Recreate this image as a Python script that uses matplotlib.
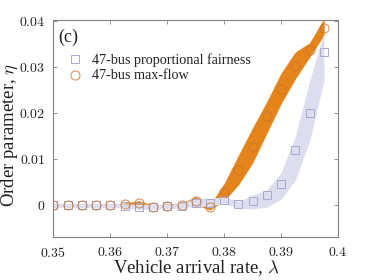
import matplotlib
matplotlib.use("Agg")
import matplotlib.pyplot as plt

plt.rcParams['font.family'] = ['Liberation Serif', 'DejaVu Serif']
plt.rcParams['mathtext.fontset'] = 'cm'

# arrival rates
lam = [0.35, 0.3525, 0.355, 0.3575, 0.36, 0.3625, 0.365, 0.3675, 0.37, 0.3725,
       0.375, 0.3775, 0.38, 0.3825, 0.385, 0.3875, 0.39, 0.3925, 0.395, 0.3975]

# 47-bus max-flow
mf_mean = [0.0, 0.0, 0.0, 0.0, 0.0, 0.0002, 0.0004, -0.0003, -0.0001, 0.0,
           0.0008, -0.0004, 0.0028, 0.0077, 0.0126, 0.0193, 0.0252, 0.0302, 0.0337, 0.0385]
mf_low = [-0.0001, -0.0001, -0.0001, -0.0001, -0.0001, -0.0001, -0.0003, -0.0006, -0.0004, -0.0003,
          0.0001, -0.0010, 0.0010, 0.0045, 0.0093, 0.0158, 0.0222, 0.0276, 0.0323, 0.0370]
mf_high = [0.0001, 0.0001, 0.0001, 0.0001, 0.0001, 0.0004, 0.0009, 0.0000, 0.0002, 0.0004,
           0.0018, 0.0000, 0.0047, 0.0108, 0.0168, 0.0225, 0.0287, 0.0333, 0.0353, 0.0405]

# 47-bus proportional fairness
pf_mean = [0.0, 0.0, 0.0, 0.0, 0.0, -0.0001, -0.0003, -0.0003, -0.0002, -0.0001,
           0.0005, 0.0005, 0.0012, 0.0002, 0.0009, 0.0023, 0.0045, 0.0120, 0.0201, 0.0333]
pf_low = [-0.0005, -0.0005, -0.0005, -0.0005, -0.0005, -0.0006, -0.0009, -0.0009, -0.0008, -0.0006,
          -0.0003, -0.0003, 0.0005, -0.0008, -0.0008, -0.0004, 0.0013, 0.0055, 0.0140, 0.0270]
pf_high = [0.0004, 0.0004, 0.0004, 0.0004, 0.0004, 0.0003, 0.0002, 0.0002, 0.0002, 0.0004,
           0.0015, 0.0015, 0.0018, 0.0008, 0.0022, 0.0033, 0.0071, 0.0150, 0.0270, 0.0376]

xticks = [0.35, 0.36, 0.37, 0.38, 0.39, 0.40]
xtick_labels = ['0.35', '0.36', '0.37', '0.38', '0.39', '0.4']
yticks = [0.0, 0.01, 0.02, 0.03, 0.04]
ytick_labels = ['0', '0.01', '0.02', '0.03', '0.04']

orange_fill = '#E5841A'
orange_edge = '#CC7330'
lav_fill = '#DCDDEE'
lav_edge = '#A8A8D4'

fig = plt.figure(figsize=(3.74, 2.80), dpi=100)
ax = fig.add_axes([0.143, 0.1525, 0.761, 0.776])

ax.fill_between(lam, mf_low, mf_high, color=orange_fill, lw=0.3, edgecolor=orange_fill, zorder=2)
ax.fill_between(lam, pf_low, pf_high, color=lav_fill, lw=0, zorder=3)

ax.plot(lam, pf_mean, ls='none', marker='s', ms=5.5, mfc='none', mec=lav_edge, mew=0.7,
        zorder=4, label='47-bus proportional fairness')
ax.plot(lam, mf_mean, ls='none', marker='o', ms=6.5, mfc='none', mec=orange_edge, mew=0.7,
        alpha=0.85, zorder=5, label='47-bus max-flow')

ax.set_xlim(0.35, 0.40)
ax.set_ylim(-0.007, 0.0403)
ax.set_xticks(xticks)
ax.set_xticklabels(['$' + t + '$' for t in xtick_labels], fontsize=10)
ax.set_yticks(yticks)
ax.set_yticklabels(['$' + t + '$' for t in ytick_labels], fontsize=10)

spine_color = '#808080'
for s in ax.spines.values():
    s.set_color(spine_color)
    s.set_linewidth(0.8)
ax.tick_params(direction='in', length=3, width=0.6, color=spine_color,
               top=True, right=True, labelcolor='#222222', pad=6)

ax.set_xlabel(r'Vehicle arrival rate, $\lambda$', fontsize=13.5, va='center', color='#222222')
ax.xaxis.set_label_coords(0.5, -0.14)
ax.set_ylabel(r'Order parameter, $\eta$', fontsize=13.5, va='center', color='#222222')
ax.yaxis.set_label_coords(-0.152, 0.47)

ax.text(0.016, 0.96, '(c)', transform=ax.transAxes, fontsize=13, va='top', ha='left',
        color='#222222')

leg = ax.legend(loc='upper left', bbox_to_anchor=(0.03, 0.875), frameon=False, fontsize=10.2,
                handlelength=1.0, handletextpad=0.7, labelspacing=0.2, borderaxespad=0)
for t in leg.get_texts():
    t.set_color('#222222')

fig.savefig('out.png', dpi=100)
